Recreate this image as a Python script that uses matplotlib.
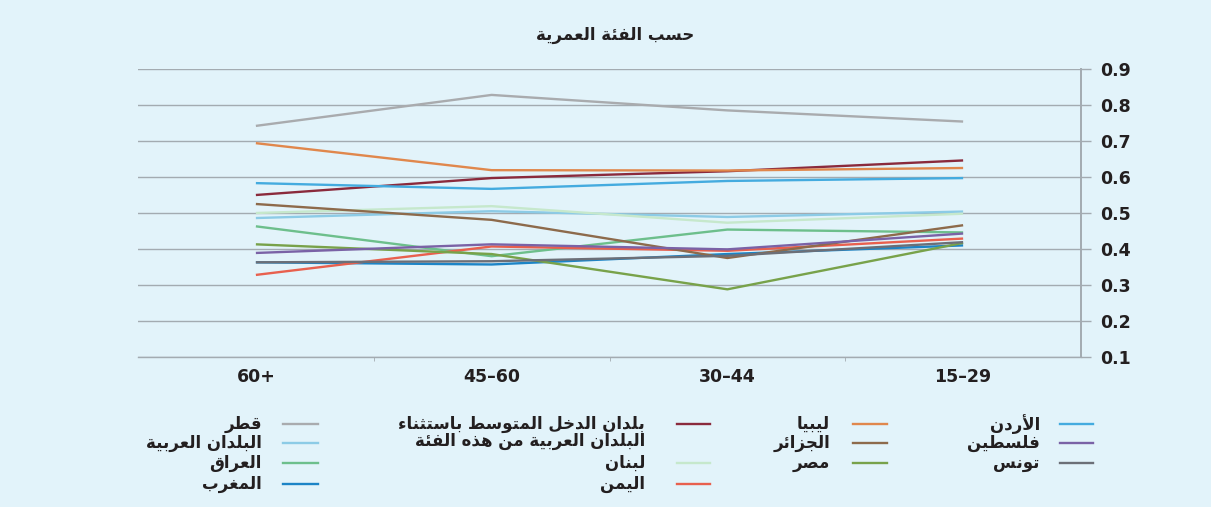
import matplotlib
matplotlib.use("Agg")
import matplotlib.pyplot as plt
from matplotlib.lines import Line2D

# age groups, as they appear left to right
categories = ['60+', '45–60', '30–44', '15–29']

qatar = [0.742, 0.828, 0.785, 0.754]
arab_countries = [0.486, 0.505, 0.489, 0.504]
iraq = [0.463, 0.380, 0.454, 0.446]
morocco = [0.363, 0.357, 0.386, 0.410]
middle_income = [0.550, 0.597, 0.616, 0.646]
lebanon = [0.500, 0.519, 0.473, 0.498]
yemen = [0.328, 0.407, 0.395, 0.429]
libya = [0.694, 0.619, 0.618, 0.625]
algeria = [0.525, 0.481, 0.375, 0.466]
egypt = [0.413, 0.386, 0.288, 0.417]
jordan = [0.583, 0.567, 0.589, 0.597]
palestine = [0.389, 0.413, 0.399, 0.443]
tunisia = [0.363, 0.366, 0.381, 0.419]

yticks = [0.1, 0.2, 0.3, 0.4, 0.5, 0.6, 0.7, 0.8, 0.9]
title = 'حسب الفئة العمرية'

# ---- minimal arabic shaping (matplotlib has no bidi / joining) ----
DUAL = {'ئ': 0xFE89, 'ب': 0xFE8F, 'ت': 0xFE95, 'ث': 0xFE99, 'ج': 0xFE9D,
        'ح': 0xFEA1, 'خ': 0xFEA5, 'س': 0xFEB1, 'ش': 0xFEB5, 'ص': 0xFEB9,
        'ض': 0xFEBD, 'ط': 0xFEC1, 'ظ': 0xFEC5, 'ع': 0xFEC9, 'غ': 0xFECD,
        'ف': 0xFED1, 'ق': 0xFED5, 'ك': 0xFED9, 'ل': 0xFEDD, 'م': 0xFEE1,
        'ن': 0xFEE5, 'ه': 0xFEE9, 'ي': 0xFEF1}
RIGHT = {'آ': 0xFE81, 'أ': 0xFE83, 'ؤ': 0xFE85, 'إ': 0xFE87, 'ا': 0xFE8D,
         'ة': 0xFE93, 'د': 0xFEA9, 'ذ': 0xFEAB, 'ر': 0xFEAD, 'ز': 0xFEAF,
         'و': 0xFEED, 'ى': 0xFEEF}
LAM_ALEF = {'آ': 0xFEF5, 'أ': 0xFEF7, 'إ': 0xFEF9, 'ا': 0xFEFB}


def shape_line(text):
    out = []
    i = 0
    while i < len(text):
        c = text[i]
        prev = i > 0 and text[i - 1] in DUAL
        nxt = i + 1 < len(text) and (text[i + 1] in DUAL or text[i + 1] in RIGHT)
        if c == 'ل' and i + 1 < len(text) and text[i + 1] in LAM_ALEF:
            out.append(chr(LAM_ALEF[text[i + 1]] + (1 if prev else 0)))
            i += 2
            continue
        if c in DUAL:
            b = DUAL[c]
            if prev and nxt:
                out.append(chr(b + 3))
            elif prev:
                out.append(chr(b + 1))
            elif nxt:
                out.append(chr(b + 2))
            else:
                out.append(chr(b))
        elif c in RIGHT:
            out.append(chr(RIGHT[c] + (1 if prev else 0)))
        elif c == 'ء':
            out.append(chr(0xFE80))
        else:
            out.append(c)
        i += 1
    return ''.join(reversed(out))


# (label, values, colour, legend column, legend row)
series = [
    ('قطر', qatar, '#a9abae', 0, 0),
    ('البلدان العربية', arab_countries, '#8ccbe6', 0, 1),
    ('العراق', iraq, '#6dbf8c', 0, 2),
    ('المغرب', morocco, '#1c84c6', 0, 3),
    ('بلدان الدخل المتوسط باستثناء\nالبلدان العربية من هذه الفئة', middle_income, '#8a2a3c', 1, 0),
    ('لبنان', lebanon, '#c6e8cc', 1, 2),
    ('اليمن', yemen, '#e8604e', 1, 3),
    ('ليبيا', libya, '#e0874c', 2, 0),
    ('الجزائر', algeria, '#8d6a4b', 2, 1),
    ('مصر', egypt, '#78a24a', 2, 2),
    ('الأردن', jordan, '#44abdf', 3, 0),
    ('فلسطين', palestine, '#7a62a6', 3, 1),
    ('تونس', tunisia, '#6c6f77', 3, 2),
]

bg = '#e2f3fa'
grid_c = '#a3abb1'
text_c = '#231f20'
ar_font = dict(fontsize=12, fontweight='bold', color=text_c, family=['DejaVu Sans'])

fig = plt.figure(figsize=(12.11, 5.07), dpi=100, facecolor=bg)
ax = fig.add_axes([138 / 1211, 1 - 357 / 507, (1081 - 138) / 1211, (357 - 69) / 507])
ax.set_facecolor(bg)

x = list(range(len(categories)))
for label, vals, color, col, row in series:
    ax.plot(x, vals, color=color, lw=1.7, solid_capstyle='butt')

ax.set_xlim(-0.5, len(categories) - 0.5)
ax.set_ylim(0.1, 0.9)
ax.set_yticks(yticks)
ax.set_yticklabels(['%.1f' % v for v in yticks])
ax.yaxis.tick_right()
ax.grid(axis='y', color=grid_c, lw=1.0)
ax.set_axisbelow(True)
for s in ['left', 'top']:
    ax.spines[s].set_visible(False)
ax.spines['bottom'].set_color(grid_c)
ax.spines['bottom'].set_linewidth(1.0)
ax.spines['right'].set_color(grid_c)
ax.spines['right'].set_linewidth(1.4)
ax.tick_params(axis='y', length=7, width=1, color=grid_c, pad=7,
               labelsize=12.5, labelcolor=text_c)
for t in ax.get_yticklabels():
    t.set_fontweight('bold')

ax.set_xticks(x)
ax.set_xticklabels(categories, fontsize=12.5, fontweight='bold', color=text_c)
ax.set_xticks([0.5, 1.5, 2.5], minor=True)
ax.tick_params(axis='x', which='major', length=0, pad=8)
ax.tick_params(axis='x', which='minor', length=3, color=grid_c)

fig.text(615 / 1211, 1 - 35 / 507, shape_line(title), ha='center', va='center', **ar_font)

# legend, right-to-left columns: (text right edge, marker start, marker end)
col_x = [(262, 283, 318), (645, 677, 710), (830, 853, 887), (1040, 1060, 1093)]
row_y = [424, 443, 463, 484]
for label, vals, color, col, row in series:
    tx, m0, m1 = col_x[col]
    y = row_y[row]
    for k, line in enumerate(label.split('\n')):
        fig.text(tx / 1211, 1 - (y + 17 * k) / 507, shape_line(line),
                 ha='right', va='center', **ar_font)
    fig.add_artist(Line2D([m0 / 1211, m1 / 1211], [1 - y / 507, 1 - y / 507],
                          color=color, lw=1.7, transform=fig.transFigure))

fig.savefig('out.png', dpi=100, facecolor=bg)
